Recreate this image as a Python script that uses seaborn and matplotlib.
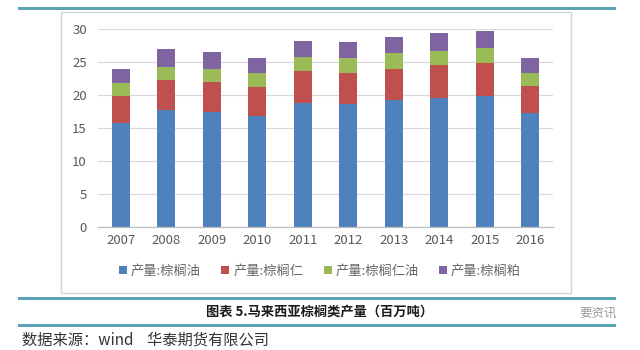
import numpy as np
import pandas as pd
import matplotlib
matplotlib.use("Agg")
import matplotlib.pyplot as plt
from matplotlib.patches import Rectangle, Patch
import seaborn as sns

years = ["2007", "2008", "2009", "2010", "2011", "2012", "2013", "2014", "2015", "2016"]
palm_oil = [15.7, 17.7, 17.45, 16.8, 18.8, 18.7, 19.3, 19.6, 19.9, 17.3]
palm_kernel = [4.1, 4.6, 4.55, 4.35, 4.8, 4.7, 4.6, 4.9, 5.0, 4.1]
kernel_oil = [2.0, 2.0, 2.0, 2.15, 2.1, 2.15, 2.4, 2.2, 2.2, 2.0]
kernel_meal = [2.2, 2.6, 2.5, 2.3, 2.5, 2.55, 2.5, 2.65, 2.6, 2.25]

series_names = ["产量:棕榈油", "产量:棕榈仁", "产量:棕榈仁油", "产量:棕榈粕"]
colors = ["#4F81BD", "#C0504D", "#9BBB59", "#8064A2"]
yticks = [0, 5, 10, 15, 20, 25, 30]

sns.set_theme(style="white")
plt.rcParams['font.family'] = ['Noto Sans CJK SC', 'DejaVu Sans']

df = pd.DataFrame({"year": years, series_names[0]: palm_oil, series_names[1]: palm_kernel,
                   series_names[2]: kernel_oil, series_names[3]: kernel_meal})
cum = df[series_names].cumsum(axis=1)

fig = plt.figure(figsize=(6.4, 3.5), dpi=100)
W, H = 640, 350

# outer chart frame
fig.patches.append(Rectangle((61 / W, 1 - 293 / H), (571 - 61) / W, (293 - 12) / H,
                             transform=fig.transFigure, fill=False, edgecolor="#d4d4d4", lw=1.0))
# teal bands
for y0, y1 in [(7, 10), (297, 300), (324, 327)]:
    fig.patches.append(Rectangle((18 / W, 1 - y1 / H), (616 - 18) / W, (y1 - y0) / H,
                                 transform=fig.transFigure, facecolor="#5aa2b4", edgecolor="none"))

ax = fig.add_axes([98 / W, 1 - 227 / H, (553 - 98) / W, (227 - 29) / H])
for name, col in reversed(list(zip(series_names, colors))):
    sns.barplot(x=df["year"], y=cum[name], color=col, width=0.4, ax=ax,
                saturation=1, edgecolor="none", linewidth=0)

ax.set_ylim(0, 30)
ax.set_xlim(-0.5, 9.5)
ax.set_yticks(yticks)
ax.set_yticklabels([str(v) for v in yticks])
ax.set_xlabel("")
ax.set_ylabel("")
ax.grid(axis="y", color="#d9d9d9", lw=0.9)
ax.set_axisbelow(True)
for s in ["left", "right", "top"]:
    ax.spines[s].set_visible(False)
ax.spines["bottom"].set_color("#bfbfbf")
ax.spines["bottom"].set_linewidth(0.9)
ax.set_xticks(np.arange(-0.5, 10, 1), minor=True)
ax.tick_params(axis="x", which="minor", length=4, color="#bfbfbf", width=0.9, direction="out")
ax.tick_params(axis="x", which="major", length=0, pad=5, labelsize=9.5, labelcolor="#595959")
ax.tick_params(axis="y", length=0, pad=8, labelsize=9.5, labelcolor="#595959")

handles = [Patch(facecolor=c, edgecolor="none") for c in colors]
fig.legend(handles, series_names, loc="center", bbox_to_anchor=(0.5, 1 - 271 / H), ncol=4,
           frameon=False, fontsize=9.5, handlelength=0.6, handleheight=0.6, handletextpad=0.3,
           columnspacing=1.55, labelcolor="#666666")

fig.text(0.5, 1 - 311 / H, "图表 5.马来西亚棕榈类产量（百万吨）", ha="center", va="center",
         fontsize=9.5, color="#1a1a1a", fontweight="bold")
fig.text(22 / W, 1 - 340 / H, "数据来源：wind    华泰期货有限公司", ha="left", va="center",
         fontsize=11, color="#333333")
fig.text(598 / W, 1 - 313 / H, "要资讯", ha="center", va="center", fontsize=9, color="#9a9a9a")

fig.savefig("out.png", dpi=100)
